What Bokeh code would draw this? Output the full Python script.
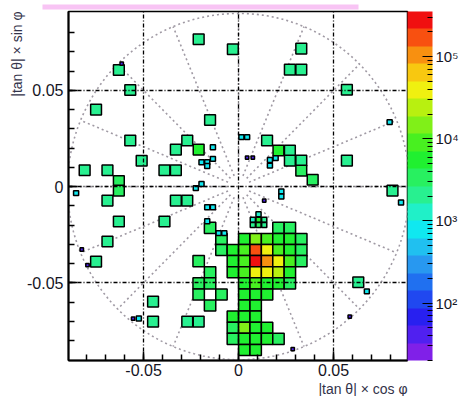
import numpy as np
from bokeh.plotting import figure
from bokeh.models import (ColumnDataSource, LogColorMapper, ColorBar, FixedTicker,
                          Title, CustomJSTickFormatter)
from bokeh.transform import transform
from bokeh.embed import file_html
from bokeh.resources import INLINE

XB = 0.006        # x bin width
YB = 0.00577      # y bin width
Y0 = -0.0878      # lower edge of the central cluster grid
FX = 0.003        # fine x bin

# ---- isolated boxes: x bin index, y centre, content ----
iso_ix = [-4, -1, 5, -11, 4, 5, -10, 9, -13, -3,
          -10, -5, 2, -6, -4, 3, 4, -9, 4, 5, 9,
          -14, -12, -7, -6, 5, -11, 6, -11, 13,
          -12, -6, -5, -11, -7, -12, -13, 10, -8, -8, -5, -4]
iso_y = [0.0766, 0.0714, 0.0717, 0.0606, 0.0608, 0.0608, 0.0502, 0.0503, 0.0400, 0.0346,
         0.0239, 0.0239, 0.0239, 0.0192, 0.0192, 0.0187, 0.0187, 0.0134, 0.0135, 0.0135, 0.0135,
         0.0085, 0.0085, 0.0085, 0.0085, 0.0083, 0.0029, 0.0036, -0.0021, -0.0021,
         -0.0073, -0.0073, -0.0073, -0.0182, -0.0182, -0.0286, -0.0390, -0.0497, -0.0598,
         -0.0702, -0.0702, -0.0702]
iso_val = [2200, 2200, 2200, 2200, 2200, 2200, 2200, 2200, 2200, 2200,
           2200, 2200, 2200, 2200, 6000, 6500, 2600, 2200, 2600, 2600, 2200,
           2200, 2200, 2200, 2200, 3000, 3000, 3000, 3000, 2000,
           2200, 2200, 2200, 2200, 2200, 2200, 2200, 2000, 2200, 2200, 2200, 2200]

# ---- central cluster: x bin index, y bin index (from Y0), content ----
cl_ix = [-3, 3, 4,
         -2, 0, 1, 2, 3, 4, 5,
         -2, -1, 0, 1, 2, 3, 4, 5,
         -4, -1, 0, 1, 2, 3, 4, 5,
         -3, -1, 0, 1, 2, 3, 4,
         -4, -3, 0, 1, 2, 3, 4,
         -4, -2, 0, 1, 2,
         -3, 0, 1,
         -1, 0, 1,
         -1, 0, 1, 2,
         -1, 0, 1, 2, 3,
         0, 1]
cl_m = [11, 11, 11,
        10, 10, 10, 10, 10, 10, 10,
        9, 9, 9, 9, 9, 9, 9, 9,
        8, 8, 8, 8, 8, 8, 8, 8,
        7, 7, 7, 7, 7, 7, 7,
        6, 6, 6, 6, 6, 6, 6,
        5, 5, 5, 5, 5,
        4, 4, 4,
        3, 3, 3,
        2, 2, 2, 2,
        1, 1, 1, 1, 1,
        0, 0]
cl_val = [3000, 4000, 3000,
          3000, 6000, 15000, 9000, 6000, 5000, 3000,
          4000, 5000, 8000, 200000, 50000, 8000, 6000, 4000,
          3000, 5000, 9000, 300000, 120000, 50000, 8000, 4000,
          3000, 5000, 9000, 50000, 40000, 20000, 6000,
          3000, 3000, 7000, 8000, 7000, 6000, 4000,
          3000, 3000, 6000, 7000, 6000,
          3000, 6000, 6000,
          5000, 6000, 6000,
          4000, 15000, 7000, 5000,
          4000, 7000, 6000, 5000, 4000,
          5000, 5000]

# ---- fine boxes: x centre, y centre, content ----
fine_x = [-0.0135, -0.0195, -0.0165, -0.0135, -0.0165, -0.0225, -0.0195,
          -0.0165, -0.0135, 0.0015, 0.0045, 0.0165, 0.0165, 0.0195, 0.0225, 0.0225,
          0.0045, 0.0075, 0.0135, -0.0165, -0.0105, -0.0075,
          0.0075, 0.0105, 0.0135, 0.0075, 0.0105, 0.0135, 0.0105,
          0.0285, 0.0585, 0.0675, -0.0555, -0.0525, -0.0825, -0.0795, -0.0615,
          0.0795, 0.0855, -0.0855]
fine_y = [0.0204, 0.0126, 0.0126, 0.0144, 0.0107, -0.0008, 0.0013,
          -0.0107, -0.0107, 0.0257, 0.0257, 0.0138, 0.0109, 0.0148, -0.0026, -0.0052,
          0.0151, 0.0151, -0.0073, -0.0180, -0.0242, -0.0242,
          -0.0172, -0.0172, -0.0172, -0.0200, -0.0200, -0.0200, -0.0144,
          -0.0845, -0.0676, -0.0545, -0.0686, -0.0686, -0.0327, -0.0408, 0.0639,
          0.0335, -0.0083, -0.0034]
fine_val = [1000, 900, 900, 900, 900, 900, 900,
            900, 900, 900, 900, 900, 900, 900, 900, 900,
            40, 40, 40, 900, 900, 900,
            1500, 5000, 2500, 2000, 3000, 2500, 1200,
            40, 40, 700, 40, 900, 40, 40, 40,
            900, 900, 900]

# colour scale
z_low, z_high = 10 ** 1.3, 10 ** 5.55
palette = ["#8020e8", "#5020f0", "#2820f0", "#2048f0", "#2070f0", "#2898f0",
           "#20c0f0", "#10e8f0", "#20f0c8", "#28f090", "#28f060", "#20f030",
           "#48f020", "#80f018", "#b8f010", "#f0f010", "#f8c810", "#f89010",
           "#f85010", "#f01010"]
cbar_ticks = [1e2, 1e3, 1e4, 1e5]
axis_ticks = [-0.05, 0.0, 0.05]

FONT = "Liberation Sans"

p = figure(width=461, height=396, x_range=(-0.0895, 0.0889), y_range=(-0.0904, 0.0910),
           output_backend="svg", toolbar_location=None,
           min_border_left=68, min_border_right=54, min_border_top=11,
           min_border_bottom=36, background_fill_color="white",
           border_fill_color="white")

# polar dotted grid
th = np.linspace(0, 2 * np.pi, 361)
R = 0.09
p.line(R * np.cos(th), R * np.sin(th), line_color="#a09aa4", line_dash="2 3",
       line_width=1.6)
ang = np.deg2rad(np.arange(0, 360, 22.5))
p.segment(0.006 * np.cos(ang), 0.006 * np.sin(ang), R * np.cos(ang), R * np.sin(ang),
          line_color="#a09aa4", line_dash="2 3", line_width=1.6)

mapper = LogColorMapper(palette=palette, low=z_low, high=z_high)

src_iso = ColumnDataSource(dict(x=(np.array(iso_ix) + 0.5) * XB, y=iso_y, v=iso_val))
p.rect("x", "y", width=XB * 0.95, height=YB * 0.95, source=src_iso,
       fill_color=transform("v", mapper), line_color="black", line_width=1.5)

src_cl = ColumnDataSource(dict(x=(np.array(cl_ix) + 0.5) * XB,
                               y=Y0 + (np.array(cl_m) + 0.5) * YB, v=cl_val))
p.rect("x", "y", width=XB, height=YB, source=src_cl,
       fill_color=transform("v", mapper), line_color="black", line_width=1.5)

fv = np.array(fine_val, dtype=float)
frac = 0.55 + 0.35 * np.clip((np.log10(fv) - 1.4) / 1.6, 0, 1)
src_fine = ColumnDataSource(dict(x=fine_x, y=fine_y, v=fine_val,
                                 w=frac * FX, h=frac * YB / 2))
p.rect("x", "y", width="w", height="h", source=src_fine,
       fill_color=transform("v", mapper), line_color="black", line_width=1.5)

# axes
minor = [round(v, 3) for v in np.arange(-0.08, 0.0801, 0.01)]
for ax in (p.xaxis[0], p.yaxis[0]):
    ax.ticker = FixedTicker(ticks=axis_ticks, minor_ticks=minor)
    ax.formatter = CustomJSTickFormatter(code="return tick == 0 ? '0' : tick.toFixed(2);")
    ax.major_tick_in = 9
    ax.major_tick_out = 0
    ax.minor_tick_in = 6
    ax.minor_tick_out = 0
    ax.major_tick_line_width = 1.5
    ax.minor_tick_line_width = 1.5
    ax.axis_line_width = 2
    ax.major_label_text_font = FONT
    ax.major_label_text_font_size = "16px"
    ax.major_label_text_color = "#15151f"
    ax.major_label_standoff = 3
p.yaxis.major_label_orientation = "horizontal"
p.yaxis.major_label_standoff = 5

p.outline_line_color = "black"
p.outline_line_width = 1.5
p.grid.grid_line_color = "black"
p.grid.grid_line_dash = "4 2 1 2"
p.grid.grid_line_width = 1.3
p.grid.level = "overlay"

# pink title strip, cut off at the top edge of the picture
p.add_layout(Title(text="\u2002" * 158, align="left", offset=-26, vertical_align="top",
                   text_font=FONT, text_font_size="4px", standoff=0,
                   background_fill_color="#f8c4f4", border_line_color=None), "above")

# axis titles (ROOT style, right aligned)
p.add_layout(Title(text="|tan θ| × cos φ", align="right", text_font=FONT,
                   text_font_size="14px", text_font_style="normal",
                   text_color="#33334a", standoff=0), "below")
p.add_layout(Title(text="|tan θ| × sin φ", align="right", text_font=FONT,
                   text_font_size="14px", text_font_style="normal",
                   text_color="#33334a", standoff=0), "left")

cbar = ColorBar(color_mapper=mapper, width=25, padding=0, margin=1,
                ticker=FixedTicker(ticks=cbar_ticks,
                                   minor_ticks=[k * 10 ** e for e in (1, 2, 3, 4, 5)
                                                for k in range(2, 10)
                                                if z_low <= k * 10 ** e <= z_high]),
                formatter=CustomJSTickFormatter(code="""
                    const e = Math.round(Math.log10(tick));
                    const s = {2: '\u00b2', 3: '\u00b3', 4: '\u2074', 5: '\u2075'};
                    return '10' + s[e];"""),
                major_tick_in=10, minor_tick_in=5,
                major_tick_line_color="black", minor_tick_line_color="black",
                major_label_text_font=FONT, major_label_text_font_size="15px",
                major_label_text_color="#15151f", label_standoff=3,
                bar_line_color=None, border_line_color=None,
                background_fill_color=None)
p.add_layout(cbar, "right")

open("out.html", "w").write(file_html(p, INLINE))
